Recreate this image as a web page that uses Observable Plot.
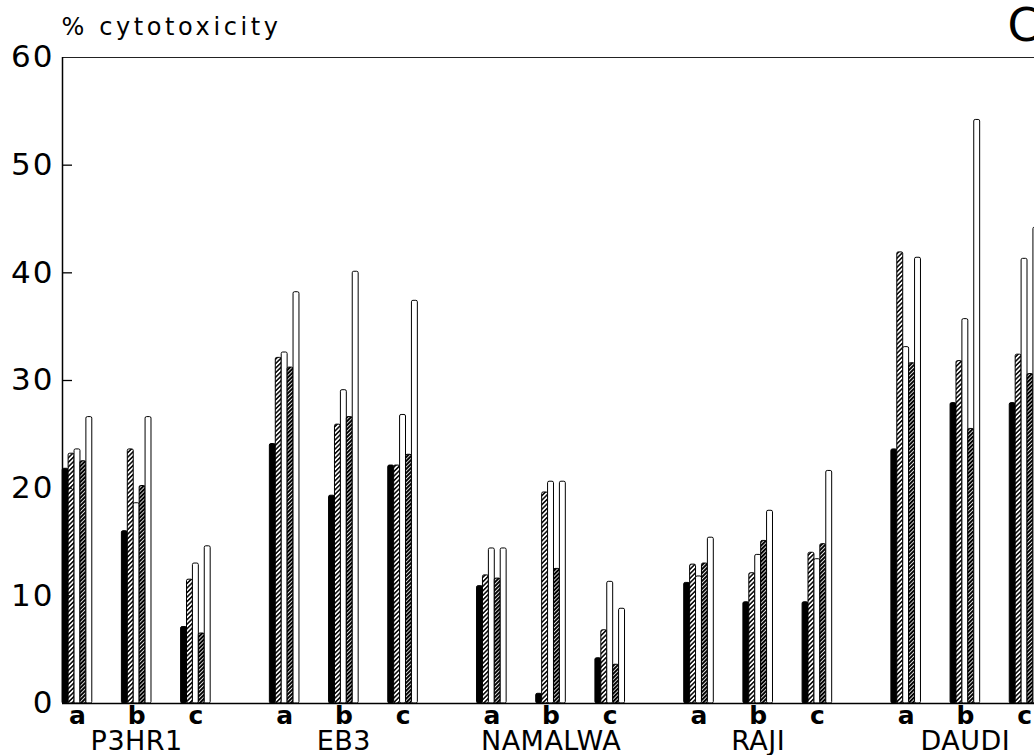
<!DOCTYPE html>
<html><head><meta charset="utf-8">
<script src="https://cdn.jsdelivr.net/npm/d3@7"></script>
<script src="https://cdn.jsdelivr.net/npm/@observablehq/plot@0.6"></script>
<style>html,body{margin:0;padding:0;overflow:hidden;background:#fff;}</style>
</head><body><div id="chart"></div>
<script>
// ---- data ----
const cellLines = ["P3HR1", "EB3", "NAMALWA", "RAJI", "DAUDI"];
const subgroups = ["a", "b", "c"];
const seriesNames = ["solid", "hatched", "open", "dense hatched", "open 2"];
// 15 values each: P3HR1 a,b,c | EB3 a,b,c | NAMALWA a,b,c | RAJI a,b,c | DAUDI a,b,c
const solid        = [21.8, 16.0, 7.1,  24.1, 19.3, 22.1,  10.9, 0.9, 4.2,  11.2, 9.4, 9.4,   23.6, 27.9, 27.9];
const hatched      = [23.2, 23.6, 11.5, 32.1, 25.9, 22.1,  11.9, 19.6, 6.8, 12.9, 12.1, 14.0, 41.9, 31.8, 32.4];
const open1        = [23.6, 18.6, 13.0, 32.6, 29.1, 26.8,  14.4, 20.6, 11.3, 11.8, 13.8, 13.4, 33.1, 35.7, 41.3];
const denseHatched = [22.5, 20.2, 6.5,  31.2, 26.6, 23.1,  11.6, 12.5, 3.6, 13.0, 15.1, 14.8, 31.6, 25.5, 30.6];
const open2        = [26.6, 26.6, 14.6, 38.2, 40.1, 37.4,  14.4, 20.6, 8.8, 15.4, 17.9, 21.6, 41.4, 54.2, 44.2];
const yTicks = [0, 10, 20, 30, 40, 50, 60];
const yLabel = "% cytotoxicity";
const panelLetter = "C";

// ---- build table ----
const seriesValues = [solid, hatched, open1, denseHatched, open2];
const seriesFills = ["black", "url(#hatchLight)", "white", "url(#hatchDark)", "white"];
const groupGap = 3.5;   // slots per cell-line group (3 subgroups + gap)
const barW = 0.1;       // bar width in slot units
const rows = [];
const subRows = [];
cellLines.forEach((cell, g) => subgroups.forEach((sub, s) => {
  const i = g * 3 + s;
  const slot = g * groupGap + s;
  subRows.push({cell, sub, slot});
  seriesValues.forEach((arr, k) => rows.push({cell, sub, series: seriesNames[k], k, slot, value: arr[i]}));
}));
const groupRows = cellLines.map((cell, g) => ({cell, slot: g * groupGap + 1}));

const xDomain = [-0.2534, 16.168];
const pxPerSlot = (1034 - 62) / (xDomain[1] - xDomain[0]);
const tickLen = 10 / pxPerSlot; // inward tick length, in slot units
const font = "'DejaVu Sans', 'Liberation Sans', Arial, sans-serif";

const barMarks = seriesNames.map((name, k) => Plot.rectY(rows.filter(d => d.k === k), {
  x1: d => d.slot + (d.k - 2.5) * barW,
  x2: d => d.slot + (d.k - 1.5) * barW,
  y: "value",
  fill: seriesFills[k],
  stroke: "black",
  strokeWidth: 1,
  rx: 1.5
}));

const svg = Plot.plot({
  width: 1034,
  height: 755,
  marginTop: 57,
  marginBottom: 52,
  marginLeft: 62,
  marginRight: 0,
  style: {fontFamily: font, background: "white", color: "black"},
  x: {type: "linear", domain: xDomain, axis: null},
  y: {domain: [0, 60]},
  marks: [
    ...barMarks,
    Plot.ruleY([0], {stroke: "black", strokeWidth: 1.5}),
    Plot.ruleY([60], {stroke: "#222", strokeWidth: 1.2}),
    Plot.ruleX([xDomain[0]], {stroke: "black", strokeWidth: 1.5}),
    Plot.ruleY(yTicks.slice(1, -1), {x1: xDomain[0], x2: xDomain[0] + tickLen, stroke: "black", strokeWidth: 1.3}),
    Plot.axisY({ticks: yTicks, tickSize: 0, tickPadding: 8, fontSize: 31, label: null, tickFormat: d => String(d)}),
    Plot.text(subRows, {x: "slot", y: 0, text: "sub", lineAnchor: "top", dy: 3, fontSize: 25, fontWeight: "bold"}),
    Plot.text(groupRows, {x: "slot", y: 0, text: "cell", lineAnchor: "top", dy: 27, fontSize: 27}),
    Plot.text([yLabel], {frameAnchor: "top-left", textAnchor: "start", lineAnchor: "top", dx: -1, dy: -40, fontSize: 24}),
    Plot.text([panelLetter], {frameAnchor: "top-right", textAnchor: "start", lineAnchor: "top", dx: -27, dy: -49, fontSize: 46})
  ]
});

const sel = d3.select(svg);
const defs = sel.insert("defs", ":first-child");
const pl = defs.append("pattern").attr("id", "hatchLight").attr("patternUnits", "userSpaceOnUse")
  .attr("width", 3.2).attr("height", 3.2).attr("patternTransform", "rotate(45)");
pl.append("rect").attr("width", 3.2).attr("height", 3.2).attr("fill", "white");
pl.append("line").attr("x1", 0.8).attr("y1", 0).attr("x2", 0.8).attr("y2", 3.2).attr("stroke", "black").attr("stroke-width", 1.5);
const pd = defs.append("pattern").attr("id", "hatchDark").attr("patternUnits", "userSpaceOnUse")
  .attr("width", 2.8).attr("height", 2.8).attr("patternTransform", "rotate(45)");
pd.append("rect").attr("width", 2.8).attr("height", 2.8).attr("fill", "black");
pd.append("line").attr("x1", 1.4).attr("y1", 0).attr("x2", 1.4).attr("y2", 2.8).attr("stroke", "white").attr("stroke-width", 0.8);

sel.selectAll("[aria-label='y-axis tick label'] text").attr("letter-spacing", 2);
sel.selectAll("text").filter(function() { return this.textContent === yLabel; }).attr("letter-spacing", 3.6);
sel.selectAll("text").filter(function() { return cellLines.includes(this.textContent); }).attr("letter-spacing", 0.5);

document.getElementById("chart").appendChild(svg);
</script>
</body></html>
